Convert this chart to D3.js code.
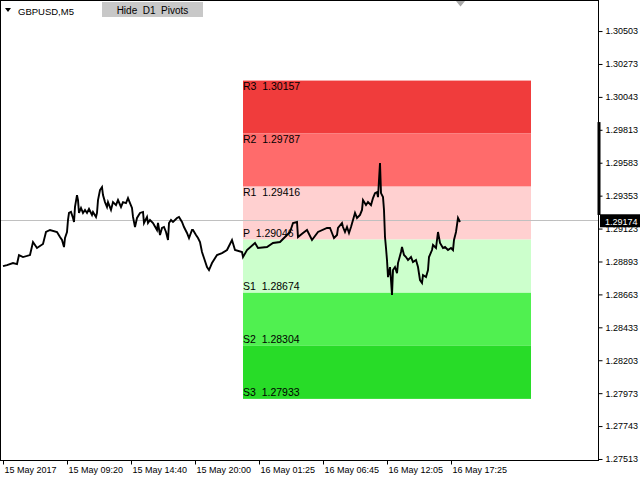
<!DOCTYPE html>
<html>
<head>
<meta charset="utf-8">
<script src="https://cdn.jsdelivr.net/npm/d3@7"></script>
<style>
body { margin: 0; background: #fff; }
svg { display: block; }
text { font-family: "Liberation Sans", Arial, sans-serif; }
</style>
</head>
<body>
<div id="chart"></div>
<script>
var symbolName = "GBPUSD,M5";
var buttonLabel = "Hide  D1  Pivots";

var timeTickBars = [0, 64, 128, 192, 256, 320, 384, 448];
var timeLabels = ["15 May 2017", "15 May 09:20", "15 May 14:40", "15 May 20:00",
                  "16 May 01:25", "16 May 06:45", "16 May 12:05", "16 May 17:25"];

var priceTicks = [1.30503, 1.30273, 1.30043, 1.29813, 1.29583, 1.29353, 1.29123,
                  1.28893, 1.28663, 1.28433, 1.28203, 1.27973, 1.27743, 1.27513];

var pivotNames = ["R3", "R2", "R1", "P", "S1", "S2", "S3"];
var pivotValues = [1.30157, 1.29787, 1.29416, 1.29046, 1.28674, 1.28304, 1.27933];
var zoneColors = ["#f03c3c", "#ff6b6b", "#ffd0d0", "#ccffcc", "#50f050", "#28dc28"];
var pivotDay = [240, 527];   // first and last M5 bar of 16 May

var lastPrice = 1.29174;
var visibleRange = [1.29218, 1.29867];

// M5 closes (bar index from the left edge)
var closeBars = [
  0, 4, 10, 14, 16, 20, 27, 30, 34, 40, 43, 47, 54,
  57, 59, 61, 62, 64, 65, 66, 68, 70, 71, 72, 74, 75, 76, 78, 80, 82, 84, 86, 89, 90, 93,
  94, 95, 97, 99, 100, 102, 104, 105, 108, 110, 113, 115, 118, 120, 123, 125, 127, 129, 130, 132,
  134, 137, 140, 141, 144, 145, 147, 150, 154, 155, 157, 159, 161, 163, 165, 166, 168, 170, 174, 176,
  179, 181, 184, 186, 189, 190, 193, 195, 197, 199, 201, 204, 206,
  209, 214, 219, 224, 229, 232, 239,
  240, 244, 252, 255, 264, 270, 277, 282, 287, 290, 294, 295, 300, 304, 309, 315, 324,
  327, 329, 331, 334, 335, 339, 340, 342, 344, 346, 348, 350, 352, 354, 357, 359, 360, 363, 365, 368,
  370, 372, 374, 375, 376, 377, 378, 380, 381, 382, 383, 384, 385, 387, 388, 389, 390, 392, 394, 395,
  398, 399, 401, 403, 405, 408, 410, 413, 415, 417, 419, 420, 423, 425, 426, 429, 430, 433, 435, 437,
  440, 442, 445, 448, 450, 451, 453, 455, 457];
var closePrices = [
  1.28861, 1.28868, 1.28882, 1.28875, 1.28938, 1.28924, 1.28938, 1.29029, 1.28987, 1.29015, 1.29099, 1.29113, 1.29099,
  1.29064, 1.29043, 1.28994, 1.29057, 1.29099, 1.29183, 1.29232, 1.29239, 1.29197, 1.29169, 1.29274, 1.29357, 1.29322, 1.29232, 1.29267, 1.29232, 1.29253, 1.29232, 1.29260, 1.29218, 1.29239, 1.29204,
  1.29232, 1.29322, 1.29392, 1.29413, 1.29357, 1.29308, 1.29274, 1.29308, 1.29253, 1.29308, 1.29287, 1.29322, 1.29274, 1.29308, 1.29301, 1.29336, 1.29301, 1.29267, 1.29204, 1.29134,
  1.29197, 1.29232, 1.29239, 1.29162, 1.29204, 1.29162, 1.29183, 1.29162, 1.29113, 1.29162, 1.29078, 1.29127, 1.29134, 1.29099, 1.29043, 1.29162, 1.29183, 1.29169, 1.29197, 1.29204,
  1.29169, 1.29134, 1.29092, 1.29057, 1.29113, 1.29113, 1.29078, 1.29057, 1.29029, 1.28959, 1.28917, 1.28854, 1.28833,
  1.28882, 1.28938, 1.28952, 1.28973, 1.29043, 1.28973, 1.28959,
  1.28924, 1.28973, 1.29022, 1.28987, 1.28994, 1.29022, 1.29029, 1.29064, 1.29099, 1.29162, 1.29169, 1.29064, 1.29092, 1.29113, 1.29043, 1.29099, 1.29127,
  1.29127, 1.29092, 1.29057, 1.29078, 1.29127, 1.29162, 1.29134, 1.29099, 1.29134, 1.29092, 1.29134, 1.29183, 1.29232, 1.29197, 1.29218, 1.29253, 1.29322, 1.29287, 1.29308, 1.29287,
  1.29336, 1.29371, 1.29378, 1.29343, 1.29462, 1.29581, 1.29371, 1.29343, 1.29253, 1.29064, 1.28987, 1.28903, 1.28784, 1.28854, 1.28763, 1.28659, 1.28833, 1.28854, 1.28812, 1.28882,
  1.28959, 1.28994, 1.28938, 1.28924, 1.28903, 1.28924, 1.28889, 1.28903, 1.28854, 1.28763, 1.28743, 1.28798, 1.28784, 1.28833, 1.28924, 1.28973, 1.29008, 1.28987, 1.29099, 1.29022,
  1.28987, 1.28994, 1.28973, 1.28987, 1.28973, 1.29043, 1.29099, 1.29197, 1.29169];

var width = 640, height = 480;
var plot = { left: 1, top: 1, right: 599, bottom: 461 };

var svg = d3.select("#chart")
    .append("svg")
    .attr("width", width)
    .attr("height", height);

// one pixel per M5 bar
var x = d3.scaleLinear()
    .domain([0, 596])
    .range([3, 599]);

var y = d3.scaleLinear()
    .domain([1.27499, 1.30713])
    .range([plot.bottom, plot.top]);

// pivot zones
var zones = d3.range(zoneColors.length).map(function (i) {
    return { top: pivotValues[i], bottom: pivotValues[i + 1], color: zoneColors[i] };
});

svg.selectAll(".zone")
    .data(zones)
    .enter()
    .append("rect")
    .attr("class", "zone")
    .attr("x", x(pivotDay[0]))
    .attr("width", x(pivotDay[1] + 1) - x(pivotDay[0]))
    .attr("y", function (d) { return y(d.top); })
    .attr("height", function (d) { return y(d.bottom) - y(d.top); })
    .attr("fill", function (d) { return d.color; });

svg.selectAll(".pivot-label")
    .data(pivotNames)
    .enter()
    .append("text")
    .attr("class", "pivot-label")
    .attr("x", x(pivotDay[0]))
    .attr("y", function (d, i) {
        return d.charAt(0) == "R" ? y(pivotValues[i]) + 9.5 : y(pivotValues[i]) - 3;
    })
    .style("font-size", "10.5px")
    .style("white-space", "pre")
    .attr("fill", "#000")
    .text(function (d, i) { return d + "  " + pivotValues[i].toFixed(5); });

// bid line
svg.append("line")
    .attr("x1", plot.left)
    .attr("x2", plot.right)
    .attr("y1", Math.round(y(lastPrice)) - 0.5)
    .attr("y2", Math.round(y(lastPrice)) - 0.5)
    .attr("stroke", "#c0c0c0")
    .attr("stroke-width", 1);

// price
var line = d3.line()
    .x(function (d) { return x(d[0]); })
    .y(function (d) { return y(d[1]); });

svg.append("path")
    .datum(closeBars.map(function (b, i) { return [b, closePrices[i]]; }))
    .attr("d", line)
    .attr("fill", "none")
    .attr("stroke", "#000")
    .attr("stroke-width", 1.9)
    .attr("stroke-linejoin", "miter");

// frame
svg.append("rect")
    .attr("x", plot.left - 0.5)
    .attr("y", plot.top - 0.5)
    .attr("width", plot.right - plot.left)
    .attr("height", plot.bottom - plot.top)
    .attr("fill", "none")
    .attr("stroke", "#000");

// axes
var yAxis = d3.axisRight(y)
    .tickValues(priceTicks)
    .tickSize(4)
    .tickFormat(d3.format(".5f"));

var gy = svg.append("g")
    .attr("transform", "translate(" + (plot.right - 0.5) + ",0)")
    .call(yAxis);
gy.select(".domain").remove();
gy.selectAll("text").style("font-size", "9px").attr("fill", "#000").attr("x", 7);

var xAxis = d3.axisBottom(x)
    .tickValues(timeTickBars)
    .tickSize(4)
    .tickFormat(function (d, i) { return timeLabels[i]; });

var gx = svg.append("g")
    .attr("transform", "translate(0," + (plot.bottom - 0.5) + ")")
    .call(xAxis);
gx.select(".domain").remove();
gx.selectAll("text")
    .style("font-size", "9px")
    .attr("fill", "#000")
    .attr("text-anchor", "start")
    .attr("x", 1)
    .attr("y", 6);

// visible range bar on the price scale
svg.append("rect")
    .attr("x", plot.right - 1.5)
    .attr("width", 3)
    .attr("y", y(visibleRange[1]))
    .attr("height", y(visibleRange[0]) - y(visibleRange[1]))
    .attr("fill", "#000");

// last price label
var lp = svg.append("g")
    .attr("transform", "translate(" + plot.right + "," + y(lastPrice) + ")");
lp.append("rect")
    .attr("x", 1)
    .attr("y", -7)
    .attr("width", 40)
    .attr("height", 13)
    .attr("fill", "#000");
lp.append("text")
    .attr("x", 6)
    .attr("y", 3.5)
    .style("font-size", "9px")
    .attr("fill", "#fff")
    .text(lastPrice.toFixed(5));

// chart shift marker
var sx = x(closeBars[closeBars.length - 1]) + 0.5;
svg.append("path")
    .attr("d", "M" + (sx - 4.5) + ",1L" + (sx + 4.5) + ",1L" + sx + ",6.5Z")
    .attr("fill", "#a8a8a8");

// title
svg.append("path")
    .attr("d", "M5,8L11,8L8,12Z")
    .attr("fill", "#000");
svg.append("text")
    .attr("x", 18)
    .attr("y", 14.5)
    .style("font-size", "9.5px")
    .attr("fill", "#000")
    .text(symbolName);

// button
svg.append("rect")
    .attr("x", 102)
    .attr("y", 2)
    .attr("width", 101)
    .attr("height", 15)
    .attr("fill", "#c8c8c8");
svg.append("text")
    .attr("x", 152.5)
    .attr("y", 13.5)
    .attr("text-anchor", "middle")
    .style("font-size", "10px")
    .style("white-space", "pre")
    .attr("fill", "#000")
    .text(buttonLabel);
</script>
</body>
</html>
